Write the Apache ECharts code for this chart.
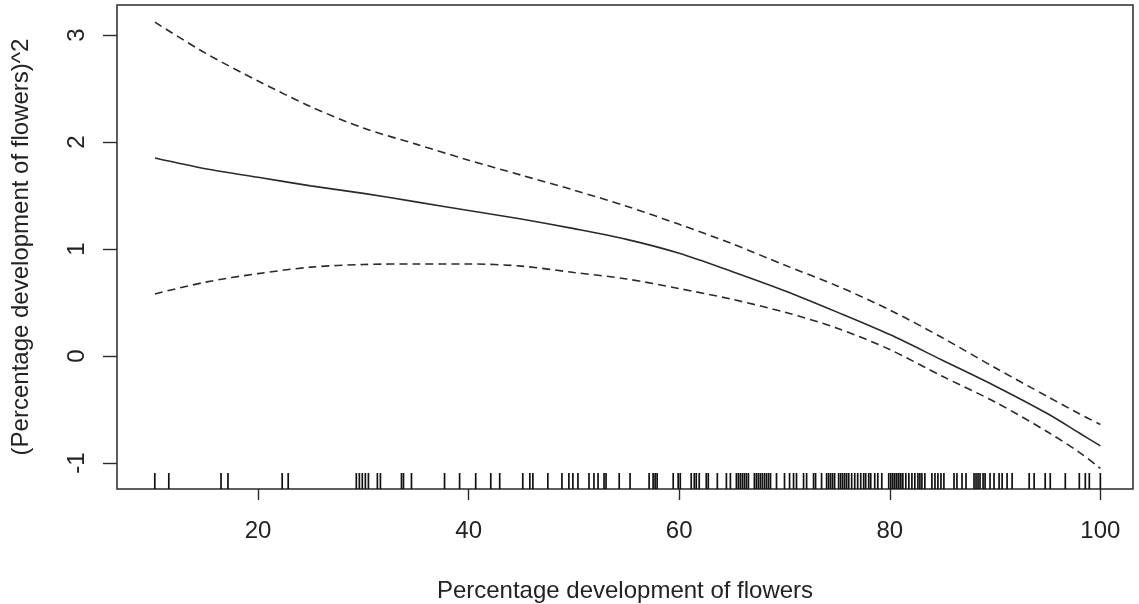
<!DOCTYPE html>
<html>
<head>
<meta charset="utf-8">
<script src="https://cdn.jsdelivr.net/npm/echarts@6/dist/echarts.min.js"></script>
<style>
html,body{margin:0;padding:0;background:#fff;}
#chart{width:1139px;height:604px;}
</style>
</head>
<body>
<div id="chart"></div>
<script>
// ---- data ----
const curveX   = [10.2, 15, 20, 25, 30, 35, 40, 45, 50, 55, 60, 65, 70, 75, 80, 85, 90, 95, 98, 100];
const fitY     = [1.85, 1.75, 1.67, 1.59, 1.52, 1.44, 1.36, 1.28, 1.19, 1.09, 0.96, 0.79, 0.61, 0.41, 0.20, -0.04, -0.28, -0.54, -0.72, -0.84];
const upperY   = [3.12, 2.83, 2.57, 2.33, 2.13, 1.98, 1.83, 1.69, 1.55, 1.40, 1.23, 1.05, 0.85, 0.655, 0.43, 0.17, -0.11, -0.38, -0.54, -0.64];
const lowerY   = [0.58, 0.69, 0.77, 0.83, 0.855, 0.86, 0.86, 0.84, 0.78, 0.72, 0.63, 0.53, 0.41, 0.26, 0.06, -0.19, -0.43, -0.71, -0.90, -1.05];
const rugX = [10.19, 11.52, 16.48, 17.14, 22.29, 22.86, 29.33, 29.62, 29.90, 30.19, 30.48, 31.33, 31.62,
  33.62, 33.81, 34.57, 37.71, 39.14, 40.67, 42.10, 42.95, 45.14, 45.81, 46.10, 47.52, 48.86, 49.52, 49.90,
  50.38, 51.43, 51.90, 52.29, 52.86, 53.05, 54.3, 55.33, 57.14, 57.52, 57.71, 57.90, 59.43, 59.90, 60.10,
  61.14, 61.43, 61.62, 61.90, 62.57, 62.76, 63.62, 64.48, 64.86, 65.43, 65.62, 65.81, 66.00, 66.19, 66.38,
  66.57, 67.14, 67.33, 67.52, 67.71, 67.90, 68.10, 68.29, 68.48, 68.67, 69.24, 70.00, 70.48, 70.86, 71.14,
  71.81, 72.10, 72.76, 72.95, 73.52, 74.00, 74.19, 74.38, 74.57, 74.76, 75.14, 75.33, 75.52, 75.71, 75.90,
  76.10, 76.38, 76.67, 76.95, 77.24, 77.52, 77.71, 78.00, 78.19, 78.57, 78.86, 79.24, 79.90, 80.10, 80.29,
  80.48, 80.67, 80.86, 81.05, 81.24, 81.52, 81.81, 82.10, 82.38, 82.67, 82.86, 83.05, 83.33, 84.00, 84.29,
  84.57, 84.86, 85.14, 86.10, 86.38, 86.86, 87.24, 88.00, 88.19, 88.38, 88.57, 88.86, 89.05, 89.52, 89.90,
  90.38, 90.67, 91.14, 91.62, 93.24, 93.71, 94.76, 95.24, 96.67, 98.00, 98.57, 98.95, 100.0];
const xTicks = [20, 40, 60, 80, 100];
const yTicks = [-1, 0, 1, 2, 3];
const xTitle = 'Percentage development of flowers';
const yTitle = '(Percentage development of flowers)^2';
const X_MIN = 6.6, X_MAX = 103.1, Y_MIN = -1.243, Y_MAX = 3.28;

const pairs = ys => curveX.map((x, i) => [x, ys[i]]);
const FONT = 'Liberation Sans, Arial, sans-serif';
const INK = '#2a2a2a';
const TXT = '#222';

const chart = echarts.init(document.getElementById('chart'));
chart.setOption({
  animation: false,
  backgroundColor: '#fff',
  grid: { left: 117, right: 6, top: 5, bottom: 115, outerBoundsMode: 'none', containLabel: false,
          show: true, borderColor: INK, borderWidth: 1.5, backgroundColor: 'transparent' },
  xAxis: {
    type: 'value', min: X_MIN, max: X_MAX,
    axisLine: { show: false, onZero: false },
    splitLine: { show: false },
    axisTick: { show: true, customValues: xTicks, length: 11, lineStyle: { color: INK, width: 1.4 } },
    axisLabel: { customValues: xTicks, margin: 30, fontSize: 24, color: TXT, fontFamily: FONT },
    name: xTitle, nameLocation: 'middle', nameGap: 90,
    nameTextStyle: { fontSize: 24, color: TXT, fontFamily: FONT }
  },
  yAxis: {
    type: 'value', min: Y_MIN, max: Y_MAX,
    axisLine: { show: false, onZero: false },
    splitLine: { show: false },
    axisTick: { show: true, customValues: yTicks, length: 14, lineStyle: { color: INK, width: 1.4 } },
    axisLabel: { customValues: yTicks, rotate: 90, margin: 28, fontSize: 24, color: TXT, fontFamily: FONT },
    name: yTitle, nameLocation: 'middle', nameGap: 84,
    nameTextStyle: { fontSize: 24, color: TXT, fontFamily: FONT }
  },
  series: [
    { type: 'line', data: pairs(fitY), showSymbol: false, smooth: 0.3,
      lineStyle: { color: INK, width: 1.6 } },
    { type: 'line', data: pairs(upperY), showSymbol: false, smooth: 0.3,
      lineStyle: { color: INK, width: 1.6, type: [8, 5] } },
    { type: 'line', data: pairs(lowerY), showSymbol: false, smooth: 0.3,
      lineStyle: { color: INK, width: 1.6, type: [8, 5] } },
    { type: 'custom', data: rugX.map(v => [v, Y_MIN]), encode: { x: 0, y: 1 }, clip: false,
      renderItem: (params, api) => {
        const p = api.coord([api.value(0), Y_MIN]);
        return { type: 'line', shape: { x1: p[0], y1: p[1], x2: p[0], y2: p[1] - 16 },
                 style: { stroke: '#111', lineWidth: 1.7 } };
      } }
  ]
});
</script>
</body>
</html>
